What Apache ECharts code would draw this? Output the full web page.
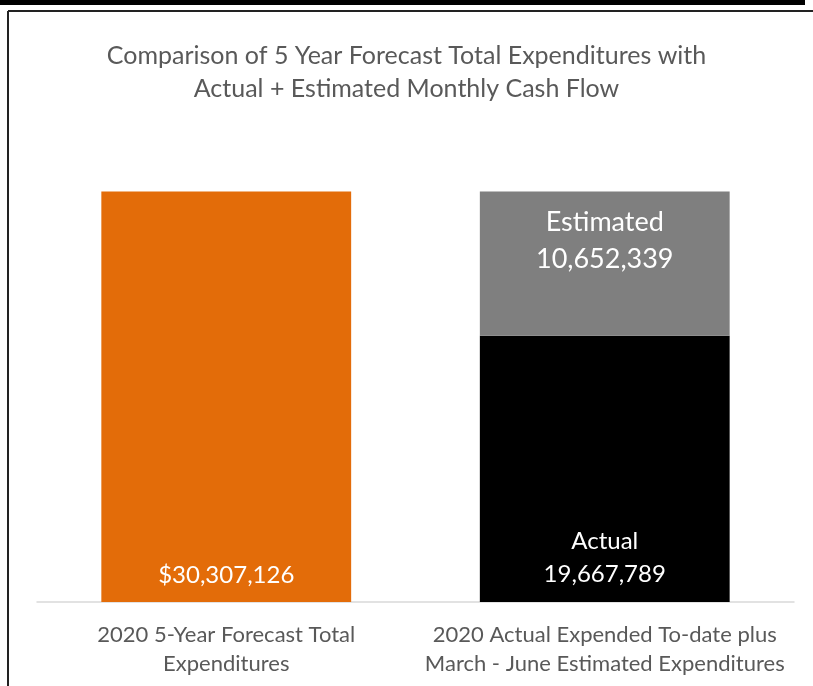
<!DOCTYPE html>
<html>
<head>
<meta charset="utf-8">
<script src="https://cdn.jsdelivr.net/npm/echarts@6/dist/echarts.min.js"></script>
<style>
  html, body { margin: 0; padding: 0; background: #fff; }
  #chart { width: 813px; height: 686px; }
</style>
</head>
<body>
<div id="chart"></div>
<script>
// Categories along the x axis
const categories = [
  '2020 5-Year Forecast Total\nExpenditures',
  '2020 Actual Expended To-date plus\nMarch - June Estimated Expenditures'
];
// Forecast total (first bar only)
const forecastValues = [30307126, null];
// Actual expended to date (bottom of the stacked bar)
const actualValues = [null, 19667789];
// Estimated remaining (top of the stacked bar)
const estimatedValues = [null, 10652339];

const FONT = 'Lato, "Open Sans", sans-serif';
const fmt = v => v.toLocaleString('en-US');

const chart = echarts.init(document.getElementById('chart'), null, { renderer: 'canvas' });

chart.setOption({
  animation: false,
  backgroundColor: '#ffffff',
  title: {
    text: 'Comparison of 5 Year Forecast Total Expenditures with\nActual + Estimated Monthly Cash Flow',
    left: 'center',
    top: 34,
    textStyle: {
      fontFamily: FONT,
      fontSize: 25,
      fontWeight: 'normal',
      color: '#595959',
      lineHeight: 33
    }
  },
  graphic: [
    { type: 'rect', shape: { x: 0, y: 0, width: 805, height: 5 }, style: { fill: '#000' } },
    { type: 'line', shape: { x1: 8, y1: 11, x2: 813, y2: 11 }, style: { stroke: '#222', lineWidth: 2 } },
    { type: 'line', shape: { x1: 8, y1: 11, x2: 8, y2: 686 }, style: { stroke: '#222', lineWidth: 2 } }
  ],
  grid: { left: 37, right: 19, top: 128, bottom: 84 },
  xAxis: {
    type: 'category',
    data: categories,
    axisTick: { show: false },
    axisLine: { lineStyle: { color: '#d9d9d9', width: 1.5 } },
    axisLabel: {
      interval: 0,
      fontFamily: FONT,
      fontSize: 22,
      color: '#595959',
      lineHeight: 29,
      margin: 18
    }
  },
  yAxis: {
    type: 'value',
    min: 0,
    max: 35000000,
    show: false,
    splitLine: { show: false }
  },
  series: [
    {
      name: 'Forecast',
      type: 'bar',
      stack: 'total',
      data: forecastValues,
      barWidth: '66%',
      itemStyle: { color: '#E36C09' },
      label: {
        show: true,
        position: 'insideBottom',
        distance: 15,
        fontFamily: FONT,
        fontSize: 24,
        color: '#ffffff',
        formatter: p => '$' + fmt(p.value)
      }
    },
    {
      name: 'Actual',
      type: 'bar',
      stack: 'total',
      data: actualValues,
      barWidth: '66%',
      itemStyle: { color: '#000000' },
      label: {
        show: true,
        position: 'insideBottom',
        distance: 11,
        fontFamily: FONT,
        fontSize: 24,
        lineHeight: 33,
        color: '#ffffff',
        formatter: p => 'Actual\n' + fmt(p.value)
      }
    },
    {
      name: 'Estimated',
      type: 'bar',
      stack: 'total',
      data: estimatedValues,
      barWidth: '66%',
      itemStyle: { color: '#7F7F7F' },
      label: {
        show: true,
        position: 'insideTop',
        distance: 12,
        fontFamily: FONT,
        fontSize: 27,
        lineHeight: 37,
        color: '#ffffff',
        formatter: p => 'Estimated\n' + fmt(p.value)
      }
    }
  ]
});
</script>
</body>
</html>
